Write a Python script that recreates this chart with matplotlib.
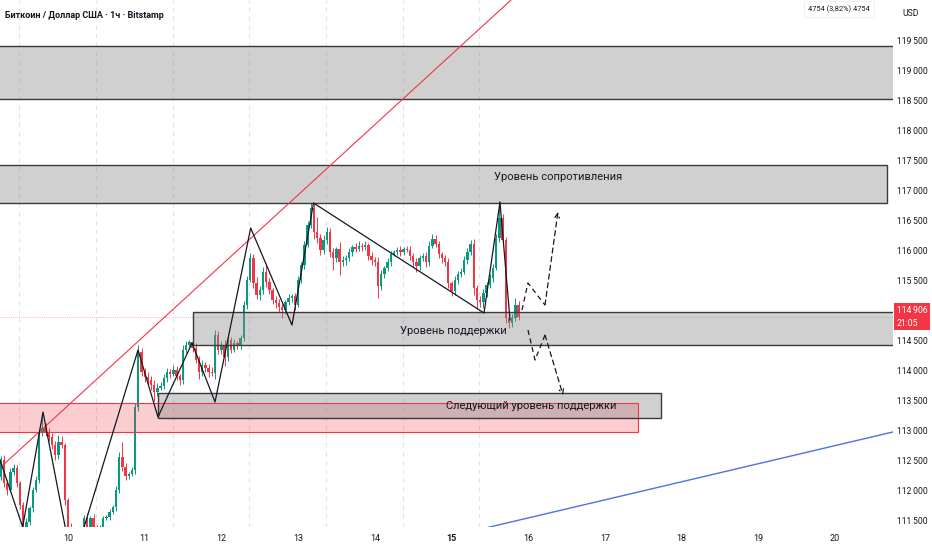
import numpy as np
import matplotlib
matplotlib.use("Agg")
import matplotlib.pyplot as plt
from matplotlib.patches import Rectangle
from matplotlib.transforms import blended_transform_factory

FONT = ["Roboto", "DejaVu Sans"]
GREEN = "#089981"
RED = "#f23645"
ZONE = "#8a8a8a"

# hourly BTC/USD candles, the first one opens on the 9th at 03:00
first_time = 9.125
first_open = 112233
closes = [
    112516, 112133, 112016, 112316, 112383, 112133, 111766, 111400, 111483, 111716,
    112016, 112183, 112983, 113050, 112966, 112900, 112766, 112600, 112816, 112766,
    111850, 111400, 111183, 111100, 111216, 111350, 111550, 111400, 111550, 111400,
    111350, 111383, 111550, 111566, 111650, 111733, 112016, 112566, 112400, 112250,
    112283, 112350, 113400, 114316, 113983, 113900, 113850, 113766, 113650, 113716,
    113750, 113883, 113983, 113950, 114016, 113916, 113850, 114350, 114433, 114483,
    114383, 114183, 113983, 114100, 114050, 113983, 113970, 114600, 114350, 114433,
    114233, 114516, 114350, 114466, 114433, 114550, 115100, 115516, 115883, 115466,
    115266, 115350, 115650, 115483, 115350, 115183, 115133, 115066, 115016, 115150,
    115216, 115250, 115100, 115516, 115766, 116100, 116433, 116716, 116316, 116216,
    116016, 116183, 116316, 115983, 115883, 116033, 115816, 115850, 115883, 115983,
    116066, 116033, 116083, 116066, 116100, 115916, 115850, 115816, 115416, 115616,
    115716, 115816, 115950, 115983, 116016, 115983, 116033, 116016, 115916, 115816,
    115750, 115883, 115916, 115816, 116083, 116200, 116116, 115950, 115883, 115816,
    115466, 115333, 115516, 115616, 115650, 115850, 115983, 116116, 115383, 115183,
    115150, 115300, 115433, 115550, 115716, 116216, 116550, 116183, 114883, 114800,
    114883, 115100, 114906,
]
wick_up = [
    60, 80, 50, 70, 60, 50, 40, 50, 60, 40,
    50, 60, 60, 250, 80, 90, 60, 70, 120, 100,
    40, 30, 60, 80, 50, 40, 50, 80, 40, 60,
    30, 50, 40, 40, 50, 40, 60, 80, 250, 60,
    40, 50, 60, 120, 60, 70, 90, 60, 80, 90,
    60, 70, 60, 50, 80, 60, 40, 90, 60, 40,
    60, 80, 70, 90, 50, 60, 80, 90, 70, 60,
    80, 60, 50, 60, 40, 50, 70, 60, 90, 60,
    100, 60, 80, 150, 60, 40, 70, 60, 50, 40,
    60, 40, 50, 60, 50, 60, 70, 90, 80, 250,
    60, 80, 90, 70, 60, 40, 120, 60, 50, 70,
    40, 60, 80, 50, 60, 40, 60, 50, 80, 60,
    40, 60, 50, 40, 50, 60, 40, 50, 60, 50,
    60, 50, 50, 60, 90, 80, 60, 50, 40, 50,
    60, 40, 60, 50, 70, 60, 60, 60, 80, 50,
    60, 70, 50, 60, 70, 60, 280, 60, 50, 40,
    60, 120, 60,
]
wick_dn = [
    50, 60, 80, 40, 50, 60, 70, 80, 60, 50,
    60, 40, 50, 60, 50, 60, 70, 80, 60, 50,
    80, 100, 150, 120, 90, 80, 60, 70, 50, 60,
    70, 50, 60, 40, 50, 40, 60, 50, 70, 60,
    50, 40, 60, 70, 60, 80, 70, 90, 150, 60,
    40, 50, 60, 70, 40, 60, 80, 60, 50, 40,
    60, 50, 120, 60, 70, 80, 60, 100, 60, 70,
    150, 60, 50, 40, 60, 70, 50, 60, 40, 80,
    70, 90, 60, 80, 60, 70, 80, 90, 130, 60,
    50, 70, 80, 40, 50, 60, 40, 50, 120, 90,
    80, 70, 60, 90, 200, 60, 220, 70, 80, 50,
    60, 50, 40, 60, 50, 70, 80, 60, 200, 70,
    60, 50, 60, 40, 50, 60, 50, 40, 70, 80,
    100, 60, 50, 80, 60, 40, 50, 60, 80, 70,
    90, 80, 60, 70, 50, 40, 60, 50, 120, 150,
    90, 100, 60, 50, 60, 40, 60, 70, 90, 80,
    60, 50, 50,
]

# drawings: (day from, day to, price low, price high)
top_zone = (9.0, 21.0, 118525, 119420)
resist_zone = (9.0, 20.678, 116800, 117433)
support_zone = (11.63, 21.0, 114433, 114983)
next_zone = (11.173, 17.731, 113216, 113633)
pink_zone = (9.0, 17.43, 112983, 113466)

zz_days = [9.048, 9.409, 9.674, 10.059, 10.913, 11.173, 11.617, 11.917,
           12.382, 12.920, 13.201, 15.424, 15.632, 15.763]
zz_prices = [112766, 111400, 113316, 110766, 114350, 113233, 114466, 113483,
             116383, 114766, 116800, 114966, 116816, 114850]
up_days = [15.919, 15.997, 16.219, 16.388]
up_prices = [115016, 115466, 115100, 116650]
dn_days = [15.997, 16.089, 16.219, 16.454]
dn_prices = [114683, 114183, 114600, 113600]
trend_days = [9.153, 15.85]
trend_prices = [112433, 120270]
blue_days = [15.40, 20.76]
blue_prices = [111370, 112985]

day_ticks = list(range(10, 21))
price_ticks = list(range(111500, 120000, 500))

opens = [first_open] + closes[:-1]
n = len(closes)
t = first_time + np.arange(n) / 24
o = np.array(opens, float)
c = np.array(closes, float)
hi = np.maximum(o, c) + np.array(wick_up)
lo = np.minimum(o, c) - np.array(wick_dn)
cols = np.where(c >= o, GREEN, RED)

fig = plt.figure(figsize=(9.32, 5.5), dpi=100)
ax = fig.add_axes([0, 23 / 550, 893 / 932, 527 / 550])
ax.set_xlim(9.1134, 20.7562)
ax.set_ylim(111400, 120183)
for s in ax.spines.values():
    s.set_visible(False)

for g in range(7):
    ax.axvline(9.365 + g, color="#dfe2e8", lw=0.8, ls=(0, (4, 4)), zorder=0)

ax.vlines(t, lo, hi, colors=cols, lw=0.7, zorder=2)
body = np.maximum(np.abs(c - o), 15)
ax.bar(t, body, bottom=np.minimum(o, c), width=0.031, color=cols, lw=0, zorder=3)

ax.axhline(closes[-1], color=RED, lw=0.6, ls=(0, (1, 1.5)), alpha=0.5, zorder=1)


def zone(z, fc, ec, alpha, lw=1.0):
    ax.add_patch(Rectangle((z[0], z[2]), z[1] - z[0], z[3] - z[2], facecolor=fc,
                           alpha=alpha, lw=0, zorder=4))
    ax.add_patch(Rectangle((z[0], z[2]), z[1] - z[0], z[3] - z[2], fill=False,
                           edgecolor=ec, lw=lw, zorder=5))


zone(pink_zone, RED, RED, 0.25, 0.8)
for z in (top_zone, resist_zone, support_zone, next_zone):
    zone(z, ZONE, "#3a3a3a", 0.4)

ax.plot(trend_days, trend_prices, color=RED, lw=0.8, zorder=6)
ax.plot(blue_days, blue_prices, color="#4a74e3", lw=1.0, zorder=6)
ax.plot(zz_days, zz_prices, color="#131722", lw=0.9, zorder=6)

for dd, pp in ((up_days, up_prices), (dn_days, dn_prices)):
    ax.plot(dd[:-1], pp[:-1], color="#131722", lw=0.9, ls=(0, (4, 3)), zorder=6)
    ax.annotate("", xy=(dd[-1], pp[-1]), xytext=(dd[-2], pp[-2]),
                arrowprops=dict(arrowstyle="->", color="#131722", lw=0.9,
                                ls=(0, (4, 3)), shrinkA=0, shrinkB=0,
                                mutation_scale=8), zorder=6)

ax.text(16.384, 117233, "Уровень сопротивления", ha="center", va="center",
        fontsize=8, family=FONT, color="#131722", zorder=7)
ax.text(15.02, 114666, "Уровень поддержки", ha="center", va="center",
        fontsize=8, family=FONT, color="#131722", zorder=7)
ax.text(16.036, 113416, "Следующий уровень поддержки", ha="center", va="center",
        fontsize=8, family=FONT, color="#131722", zorder=7)

ax.set_xticks(day_ticks)
ax.set_xticklabels([str(d) for d in day_ticks], family=FONT, fontsize=6.5,
                   color="#131722")
ax.get_xticklabels()[day_ticks.index(15)].set_fontweight("bold")
ax.tick_params(axis="x", length=0, pad=5)

last = closes[-1]
ax.yaxis.tick_right()
ax.set_yticks(price_ticks)
# the 115 000 label sits under the last-price tag
ax.set_yticklabels(["" if abs(p - last) < 250 else f"{p // 1000}\u2009{p % 1000:03d}"
                    for p in price_ticks],
                   family=FONT, fontsize=6.2, color="#131722")
ax.tick_params(axis="y", length=0, pad=3)

tr = blended_transform_factory(ax.transAxes, ax.transData)
ax.text(1.004, last, f"{last // 1000}\u2009{last % 1000:03d}\n21:05", transform=tr,
        ha="left", va="center", fontsize=6.2, family=FONT, color="white",
        linespacing=1.55, clip_on=False, zorder=10,
        bbox=dict(boxstyle="square,pad=0.3", fc=RED, ec="none"))

fig.text(5 / 932, 1 - 15 / 550, "Биткоин / Доллар США · 1ч · Bitstamp",
         ha="left", va="center", fontsize=6.5, weight="bold", family=FONT,
         color="#131722")
fig.text(911 / 932, 1 - 14 / 550, "USD", ha="center", va="center",
         fontsize=6.2, family=FONT, color="#131722")
fig.text(839 / 932, 1 - 9 / 550, "4754 (3,82%) 4754", ha="center", va="center",
         fontsize=5.3, family=FONT, color="#131722",
         bbox=dict(boxstyle="square,pad=0.5", fc="white", ec="#eeeeee", lw=0.6))

fig.savefig("out.png", dpi=100)
